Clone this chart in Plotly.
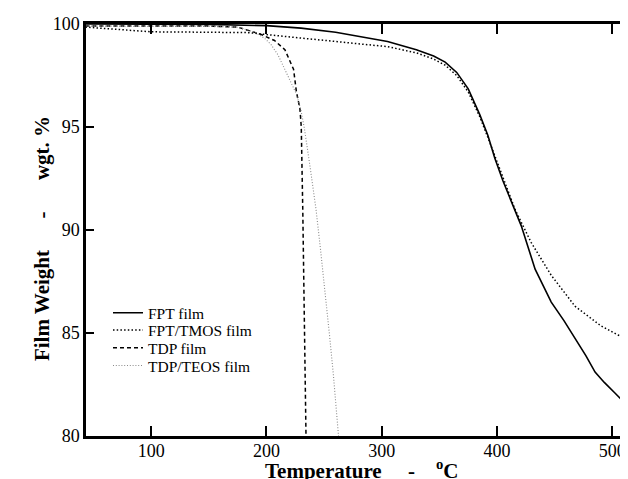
import plotly.graph_objects as go

# ---- data ----
fpt_T = [43, 100, 150, 200, 230, 260, 290, 305, 330, 345, 355, 365, 375, 385, 392, 398,
         405, 412, 421, 433, 447, 458, 468, 477, 485, 493, 502, 511, 520.5]
fpt_W = [100.0, 100.0, 99.98, 99.92, 99.8, 99.6, 99.3, 99.15, 98.75, 98.45, 98.15, 97.65,
         96.85, 95.6, 94.6, 93.5, 92.4, 91.4, 90.2, 88.1, 86.5, 85.6, 84.7, 83.9, 83.1,
         82.6, 82.1, 81.6, 81.2]

tmos_T = [43, 100, 150, 185, 201, 250, 305, 330, 345, 355, 365, 375, 385, 392, 398, 405,
          415.6, 429.5, 447, 467.6, 490, 505, 520.5]
tmos_W = [99.85, 99.62, 99.6, 99.58, 99.48, 99.2, 98.9, 98.6, 98.3, 98.0, 97.5, 96.7,
          95.5, 94.5, 93.6, 92.5, 91.0, 89.4, 87.8, 86.3, 85.35, 84.9, 84.6]

tdp_T = [43, 100, 150, 175, 184, 195, 207, 216, 223.5, 226, 229, 230.2, 231.5, 233, 234.3]
tdp_W = [99.9, 99.9, 99.9, 99.85, 99.7, 99.5, 99.2, 98.75, 97.8, 96.7, 95.9, 95.0, 91.0,
         86.0, 80.0]

teos_T = [43, 100, 150, 175, 190, 198.5, 204, 210, 218.7, 226, 230, 233, 238, 243, 247,
          251, 254.5, 258, 261, 262.5]
teos_W = [99.9, 99.9, 99.88, 99.85, 99.6, 99.3, 99.0, 98.5, 97.5, 96.6, 95.8, 94.9, 93.0,
          91.0, 89.0, 87.0, 85.0, 83.0, 81.0, 80.0]

series_names = ["FPT film", "FPT/TMOS film", "TDP film", "TDP/TEOS film"]
x_ticks = [100, 200, 300, 400, 500]
y_ticks = [80, 85, 90, 95, 100]

SERIF = "Liberation Serif, Times New Roman, serif"
nb = "\u00a0"
x_title = "<b>Temperature" + nb * 5 + "-" + nb * 4 + "<sup>o</sup>C</b>"
y_title = "<b>Film Weight" + nb * 6 + "-" + nb * 6 + "wgt. %</b>"

fig = go.Figure()
fig.add_trace(go.Scatter(x=fpt_T, y=fpt_W, mode="lines", name=series_names[0],
                         legend="legend",
                         line=dict(color="black", width=1.6)))
fig.add_trace(go.Scatter(x=tmos_T, y=tmos_W, mode="lines", name=series_names[1],
                         legend="legend2",
                         line=dict(color="black", width=1.5, dash="1.5px,2.2px")))
fig.add_trace(go.Scatter(x=tdp_T, y=tdp_W, mode="lines", name=series_names[2],
                         legend="legend3",
                         line=dict(color="black", width=1.5, dash="4px,3px")))
fig.add_trace(go.Scatter(x=teos_T, y=teos_W, mode="lines", name=series_names[3],
                         legend="legend4",
                         line=dict(color="#8a8a8a", width=1.1, dash="1px,1.8px")))


def leg(y):
    return dict(x=0.04, y=y, xanchor="left", yanchor="middle",
                bgcolor="rgba(0,0,0,0)", borderwidth=0,
                font=dict(family=SERIF, size=15.5, color="black"), itemwidth=30)


fig.update_layout(
    width=628, height=479,
    margin=dict(l=78, r=0, t=16, b=51),
    paper_bgcolor="white", plot_bgcolor="white",
    font=dict(family=SERIF, color="black"),
    showlegend=True,
    legend=leg(0.298), legend2=leg(0.256), legend3=leg(0.213), legend4=leg(0.170),
    xaxis=dict(range=[43.5, 520.5], tickvals=x_ticks, ticks="inside", ticklen=10,
               tickwidth=2, tickcolor="black", showline=True, linewidth=2.5,
               linecolor="black", mirror="ticks", showgrid=False, zeroline=False,
               tickfont=dict(family=SERIF, size=18, color="black"),
               ticklabelstandoff=-3),
    yaxis=dict(range=[80, 100], tickvals=y_ticks, ticks="inside", ticklen=8,
               tickwidth=2, tickcolor="black", showline=True, linewidth=2.5,
               linecolor="black", showgrid=False, zeroline=False,
               tickfont=dict(family=SERIF, size=18, color="black"),
               ticklabelstandoff=0),
    yaxis2=dict(range=[80, 100], overlaying="y", side="right", tickvals=[85, 90, 95],
                ticks="inside", ticklen=3, tickwidth=2, tickcolor="black",
                showticklabels=False, showline=False, showgrid=False, zeroline=False),
    annotations=[
        dict(text=x_title, xref="paper", yref="paper", x=0.5, y=0, xanchor="center",
             yanchor="top", yshift=-18, showarrow=False,
             font=dict(family=SERIF, size=21, color="black")),
        dict(text=y_title, xref="paper", yref="paper", x=0, y=0.478, xanchor="center",
             yanchor="middle", xshift=-44, textangle=-90, showarrow=False,
             font=dict(family=SERIF, size=21, color="black")),
    ],
)
fig.add_trace(go.Scatter(x=[None], y=[None], yaxis="y2", showlegend=False, hoverinfo="skip"))

fig.write_html("out.html")
